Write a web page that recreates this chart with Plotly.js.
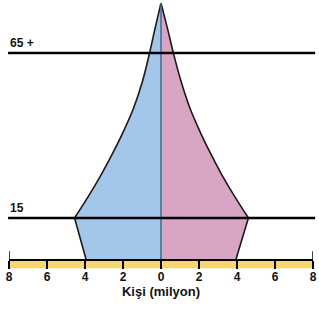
<!DOCTYPE html>
<html>
<head>
<meta charset="utf-8">
<script src="https://cdn.plot.ly/plotly-3.0.1.min.js"></script>
<style>html,body{margin:0;padding:0;background:#fff;}#chart{width:319px;height:309px;}</style>
</head>
<body>
<div id="chart"></div>
<script>
// vertical level (0 = bottom, 100 = apex)
var levels = [0, 16, 22, 32, 38.5, 42.5, 49, 59, 69.5, 80.5, 89.5, 100];
// left side (blue) in millions
var male = [3.95, 4.55, 4.03, 3.22, 2.74, 2.46, 2.03, 1.44, 0.97, 0.6, 0.33, 0];
// right side (pink) in millions
var female = [3.95, 4.6, 4.08, 3.27, 2.8, 2.52, 2.1, 1.52, 1.05, 0.65, 0.36, 0];
var tickVals = [-8, -6, -4, -2, 0, 2, 4, 6, 8];
var tickText = ["8", "6", "4", "2", "0", "2", "4", "6", "8"];
var groupLevels = [16, 80.5];
var groupLabels = ["15", "65 +"];

var traces = [];
function addSide(vals, sign, color) {
  var xs = vals.map(function(v){return sign * v;});
  traces.push({x: xs.slice(0, 2), y: levels.slice(0, 2), type: 'scatter', mode: 'lines',
    fill: 'tozerox', fillcolor: color, line: {color: '#1a1a1a', width: 1.6}, hoverinfo: 'none'});
  traces.push({x: xs.slice(1), y: levels.slice(1), type: 'scatter', mode: 'lines',
    fill: 'tozerox', fillcolor: color, line: {color: '#1a1a1a', width: 1.6, shape: 'spline', smoothing: 0.8},
    hoverinfo: 'none'});
}
addSide(male, -1, '#a3c7ea');
addSide(female, 1, '#d9a5c4');

var shapes = [
  {type: 'rect', xref: 'paper', yref: 'paper', x0: 0, x1: 1, y0: -0.036, y1: 0,
   fillcolor: '#f8d56d', line: {width: 0}, layer: 'below'},
  {type: 'line', xref: 'x', yref: 'y', x0: 0, x1: 0, y0: 0, y1: 100,
   line: {color: '#3f6890', width: 1.5}},
  {type: 'line', xref: 'x', yref: 'paper', x0: -8, x1: -8, y0: 0, y1: 0.03, line: {color: '#000', width: 1.5}},
  {type: 'line', xref: 'x', yref: 'paper', x0: 8, x1: 8, y0: 0, y1: 0.03, line: {color: '#000', width: 1.5}}
];
var annotations = [];
groupLevels.forEach(function(lv, i){
  shapes.push({type: 'line', xref: 'paper', yref: 'y', x0: -0.003, x1: 1.007, y0: lv, y1: lv,
    line: {color: '#000', width: 2.5}});
  annotations.push({xref: 'paper', yref: 'y', x: -0.003, y: lv, xanchor: 'left', yanchor: 'bottom',
    text: '<b>' + groupLabels[i] + '</b>', showarrow: false, yshift: 1,
    font: {family: 'Liberation Sans, Arial, sans-serif', size: 12, color: '#111'}});
});

var layout = {
  width: 319, height: 309,
  margin: {l: 9, r: 6, t: 3, b: 50},
  paper_bgcolor: '#fff', plot_bgcolor: '#fff',
  showlegend: false,
  xaxis: {range: [-8, 8], tickvals: tickVals, ticktext: tickText, showgrid: false, zeroline: false,
    showline: true, linecolor: '#000', linewidth: 2, ticks: 'outside', ticklen: 8, tickwidth: 1.5,
    tickcolor: '#000', ticklabelstandoff: -2,
    tickfont: {family: 'Liberation Sans, Arial, sans-serif', size: 12, color: '#111', weight: 'bold'},
    title: {text: '<b>Kişi (milyon)</b>', standoff: 1,
      font: {family: 'Liberation Sans, Arial, sans-serif', size: 13, color: '#111'}}},
  yaxis: {range: [0, 100], visible: false, showgrid: false, zeroline: false, fixedrange: true},
  shapes: shapes,
  annotations: annotations
};
Plotly.newPlot('chart', traces, layout, {displayModeBar: false, staticPlot: true});
</script>
</body>
</html>
